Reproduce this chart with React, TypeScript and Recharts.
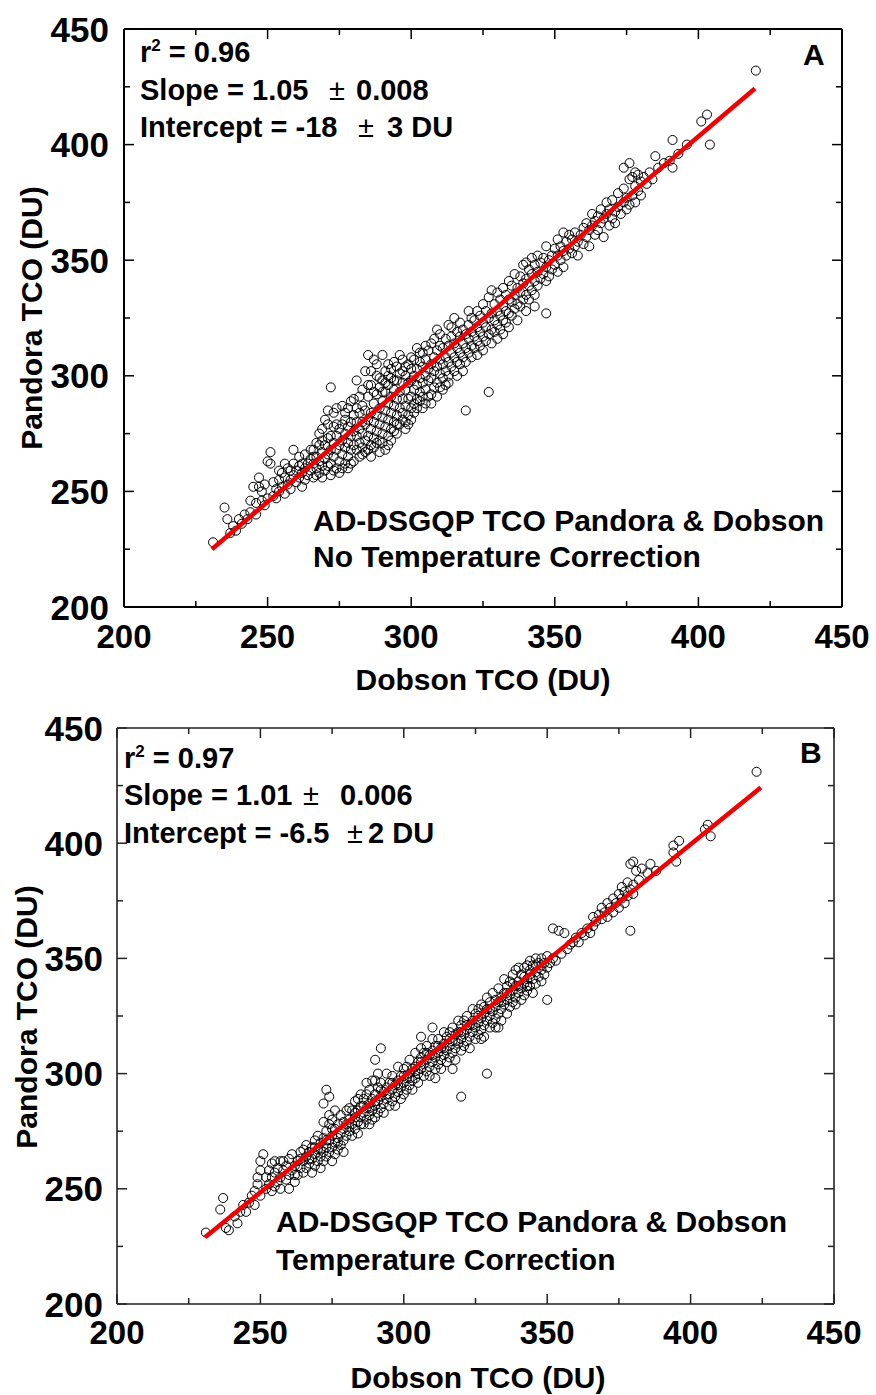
import React from "react";
import { ScatterChart, Scatter, XAxis, YAxis, ZAxis } from "recharts";

const FONT = "'Liberation Sans', Arial, Helvetica, sans-serif";

// shared axis: 200..450 DU, majors every 50, minors every 25
const axisDomain: [number, number] = [200, 450];
const axisTicks = [200, 225, 250, 275, 300, 325, 350, 375, 400, 425, 450];

// Panel A — no temperature correction: [Dobson, Pandora]
const pointsA: [number, number][] = [
  [231, 228], [235, 243], [236, 238], [237, 232], [239, 233], [241, 236], [242, 240], [243, 238],
  [244, 241], [246, 240], [246, 245], [247, 252], [247, 256], [248, 246], [248, 250], [249, 244],
  [250, 247], [250, 263], [251, 262], [251, 267], [249, 253], [245, 252], [244, 246], [240, 238], [238, 235],
  [252, 248], [252, 254], [253, 247], [253, 251], [254, 250], [254, 255], [255, 252], [255, 258],
  [256, 249], [256, 256], [257, 253], [257, 260], [258, 255], [258, 251], [259, 257], [259, 262],
  [259, 268], [260, 254], [260, 259], [261, 265], [261, 256], [262, 258], [262, 262], [262, 252],
  [263, 260], [263, 266], [264, 257], [264, 262], [265, 259], [265, 264], [265, 268], [263, 255],
  [261, 261], [258, 259], [256, 262], [254, 259],
  [266, 262], [266, 268], [266, 256], [267, 260], [267, 265], [267, 271], [268, 258], [268, 263],
  [268, 275], [269, 261], [269, 267], [269, 256], [270, 264], [270, 270], [270, 281], [270, 259],
  [271, 266], [271, 273], [271, 285], [272, 262], [272, 268], [272, 295], [272, 257], [273, 265],
  [273, 271], [273, 278], [273, 284], [274, 260], [274, 268], [274, 274], [275, 263], [275, 270],
  [275, 277], [275, 258], [276, 266], [276, 272], [276, 287], [277, 262], [277, 269], [277, 275],
  [277, 281], [278, 265], [278, 271], [278, 278], [278, 260], [279, 268], [279, 274], [279, 289],
  [280, 263], [280, 270], [280, 276], [280, 283], [279, 262], [276, 260], [274, 279], [271, 261],
  [269, 272], [267, 257],
  [281, 268], [281, 274], [281, 280], [281, 298], [282, 265], [282, 271], [282, 277], [282, 284],
  [283, 269], [283, 275], [283, 287], [283, 266], [284, 272], [284, 279], [284, 302], [284, 285],
  [285, 268], [285, 274], [285, 281], [285, 291], [285, 309], [286, 270], [286, 277], [286, 284],
  [286, 296], [287, 273], [287, 280], [287, 288], [287, 307], [287, 269], [288, 276], [288, 283],
  [288, 292], [288, 300], [289, 272], [289, 279], [289, 286], [289, 295], [290, 275], [290, 282],
  [290, 289], [290, 298], [290, 309], [290, 271], [291, 278], [291, 285], [291, 293], [291, 302],
  [292, 274], [292, 281], [292, 288], [292, 296], [292, 305], [293, 277], [293, 284], [293, 291],
  [293, 299], [294, 280], [294, 287], [294, 294], [294, 276], [295, 283], [295, 290], [295, 298],
  [295, 304], [296, 279], [296, 286], [296, 293], [296, 309], [297, 284], [297, 290], [297, 297],
  [297, 302], [298, 280], [298, 287], [298, 294], [298, 300], [299, 283], [299, 290], [299, 297],
  [299, 305], [300, 286], [300, 291], [300, 298], [300, 303], [286, 265], [289, 267], [292, 270],
  [295, 275], [298, 277],
  [301, 288], [301, 294], [301, 300], [301, 307], [302, 290], [302, 296], [302, 303], [302, 312],
  [303, 289], [303, 293], [303, 299], [303, 306], [304, 291], [304, 297], [304, 304], [304, 310],
  [305, 294], [305, 300], [305, 307], [305, 288], [306, 298], [306, 303], [306, 311], [307, 292],
  [307, 299], [307, 305], [307, 314], [308, 295], [308, 302], [308, 308], [309, 297], [309, 304],
  [309, 311], [309, 320], [310, 295], [310, 301], [310, 307], [310, 313], [311, 299], [311, 305],
  [311, 312], [312, 302], [312, 308], [312, 316], [313, 300], [313, 306], [313, 313], [313, 322],
  [314, 304], [314, 310], [314, 317], [315, 302], [315, 308], [315, 314], [315, 325], [316, 306],
  [316, 312], [316, 319], [317, 305], [317, 310], [317, 317], [317, 323], [318, 308], [318, 314],
  [318, 320], [319, 285], [319, 306], [319, 312], [319, 318], [320, 310], [320, 316], [320, 322],
  [320, 328],
  [321, 313], [321, 319], [321, 325], [322, 312], [322, 317], [322, 324], [323, 315], [323, 321],
  [323, 328], [324, 313], [324, 319], [324, 326], [325, 317], [325, 323], [325, 331], [326, 315],
  [326, 321], [326, 328], [327, 293], [327, 318], [327, 325], [327, 334], [328, 320], [328, 327],
  [328, 337], [329, 319], [329, 324], [329, 331], [330, 322], [330, 328], [330, 336], [331, 320],
  [331, 326], [331, 333], [332, 324], [332, 330], [332, 338], [333, 323], [333, 328], [333, 335],
  [334, 327], [334, 333], [334, 341], [335, 326], [335, 332], [335, 339], [336, 329], [336, 335],
  [336, 344], [337, 331], [337, 338], [338, 330], [338, 336], [338, 343], [339, 333], [339, 340],
  [339, 348], [340, 335], [340, 342], [340, 349],
  [341, 333], [341, 339], [341, 346], [342, 337], [342, 344], [342, 351], [343, 335], [343, 341],
  [343, 348], [344, 339], [344, 345], [344, 352], [345, 342], [345, 349], [346, 344], [346, 351],
  [347, 327], [347, 341], [347, 347], [347, 356], [348, 343], [348, 350], [349, 346], [349, 352],
  [350, 348], [350, 355], [351, 345], [351, 352], [351, 359], [352, 350], [352, 356], [353, 347],
  [353, 354], [353, 362], [354, 352], [354, 358], [355, 355], [355, 361],
  [356, 353], [356, 359], [357, 356], [357, 362], [358, 358], [358, 352], [359, 361], [360, 357],
  [360, 364], [361, 360], [361, 366], [362, 356], [362, 363], [363, 365], [363, 370], [364, 361],
  [364, 367], [365, 363], [365, 369], [366, 366], [366, 372], [367, 360], [367, 368], [368, 370],
  [368, 375], [369, 365], [369, 372], [370, 368], [370, 376], [371, 371], [371, 366], [372, 373],
  [372, 379], [373, 370], [374, 375], [374, 381], [375, 372], [375, 377], [376, 374], [376, 385],
  [377, 378], [377, 386], [378, 375], [378, 382], [379, 380], [379, 387], [380, 378], [380, 384],
  [381, 386], [374, 390], [376, 392], [378, 388],
  [382, 383], [383, 388], [384, 385], [385, 395], [386, 390], [388, 392], [390, 393], [391, 390],
  [391, 402], [393, 396], [396, 400], [401, 410], [403, 413], [404, 400], [420, 432],
  // denser core
  [266, 265], [268, 270], [269, 277], [271, 279], [272, 274], [273, 259], [274, 286], [276, 279],
  [277, 284], [278, 286], [279, 280], [280, 290], [281, 286], [282, 291], [283, 294], [283, 280],
  [284, 267], [285, 296], [286, 302], [287, 293], [288, 271], [288, 305], [289, 299], [290, 293],
  [291, 268], [291, 297], [292, 300], [293, 272], [293, 303], [294, 298], [294, 306], [295, 279],
  [296, 301], [297, 281], [297, 307], [298, 304], [299, 279], [300, 281], [300, 308], [301, 284],
  [302, 286], [303, 310], [304, 286], [305, 313], [306, 291], [307, 288], [308, 316], [309, 291],
  [310, 318], [311, 294], [312, 296], [313, 297], [314, 321], [316, 300], [318, 302], [321, 308],
  [323, 309], [325, 311], [328, 314], [330, 316], [332, 318], [334, 321], [337, 324], [340, 328],
  [343, 330],
];
const fitA: [number, number][] = [[230.6, 225], [419.7, 424.3]];

// Panel B — temperature corrected: [Dobson, Pandora]
const pointsB: [number, number][] = [
  [231, 231], [236, 241], [237, 246], [238, 233], [239, 232], [241, 238], [243, 240], [244, 243],
  [246, 244], [247, 247], [248, 249], [249, 252], [249, 255], [250, 247], [250, 258], [250, 262],
  [251, 265], [248, 243], [245, 240], [242, 235],
  [252, 250], [252, 255], [253, 252], [253, 258], [254, 249], [254, 255], [254, 261], [255, 251],
  [255, 257], [256, 253], [256, 259], [257, 255], [257, 250], [258, 258], [258, 262], [259, 254],
  [259, 260], [260, 256], [260, 263], [261, 258], [261, 265], [262, 253], [262, 260], [263, 256],
  [263, 262], [264, 259], [264, 266], [265, 257], [265, 262], [265, 267], [260, 250], [257, 262],
  [255, 262],
  [266, 259], [266, 264], [266, 269], [267, 261], [267, 266], [268, 257], [268, 263], [268, 268],
  [269, 260], [269, 265], [269, 271], [270, 262], [270, 267], [270, 273], [271, 259], [271, 264],
  [271, 270], [272, 266], [272, 272], [272, 262], [273, 268], [273, 264], [273, 275], [274, 266],
  [274, 271], [274, 278], [275, 262], [275, 268], [275, 273], [275, 280], [276, 270], [276, 276],
  [276, 265], [277, 267], [277, 272], [277, 278], [278, 269], [278, 274], [278, 282], [279, 271],
  [279, 276], [279, 266], [280, 273], [280, 278], [280, 284], [274, 282], [272, 279], [276, 284],
  [273, 293], [274, 290], [272, 287],
  [281, 275], [281, 280], [281, 285], [282, 273], [282, 278], [282, 284], [283, 276], [283, 281],
  [283, 288], [284, 279], [284, 284], [284, 274], [285, 281], [285, 286], [285, 291], [286, 278],
  [286, 283], [286, 289], [287, 280], [287, 285], [287, 291], [288, 282], [288, 287], [288, 278],
  [288, 293], [289, 284], [289, 289], [289, 280], [290, 281], [290, 286], [290, 291], [290, 297],
  [291, 283], [291, 288], [291, 294], [292, 285], [292, 290], [292, 296], [293, 287], [293, 292],
  [293, 283], [294, 289], [294, 294], [294, 300], [295, 286], [295, 291], [295, 296], [296, 288],
  [296, 293], [296, 299], [297, 290], [297, 295], [297, 286], [298, 292], [298, 297], [298, 303],
  [299, 289], [299, 294], [299, 299], [300, 291], [300, 296], [300, 302], [284, 289], [287, 296],
  [289, 297], [291, 300], [292, 311], [290, 306],
  [301, 293], [301, 298], [301, 303], [302, 295], [302, 300], [302, 306], [303, 297], [303, 302],
  [303, 293], [304, 298], [304, 303], [304, 309], [305, 300], [305, 305], [305, 296], [306, 302],
  [306, 307], [306, 311], [307, 299], [307, 304], [307, 309], [308, 301], [308, 306], [308, 312],
  [309, 303], [309, 308], [309, 299], [310, 305], [310, 310], [310, 315], [311, 302], [311, 307],
  [311, 312], [312, 304], [312, 309], [312, 315], [313, 306], [313, 311], [313, 302], [314, 308],
  [314, 313], [314, 318], [315, 305], [315, 310], [315, 316], [316, 307], [316, 312], [316, 318],
  [317, 309], [317, 314], [317, 320], [318, 306], [318, 311], [318, 317], [319, 313], [319, 318],
  [319, 323], [320, 290], [320, 310], [320, 315], [320, 321], [310, 320], [306, 316],
  [321, 312], [321, 317], [321, 323], [322, 314], [322, 319], [322, 325], [323, 316], [323, 321],
  [323, 311], [324, 318], [324, 323], [324, 328], [325, 315], [325, 320], [325, 326], [326, 317],
  [326, 322], [326, 328], [327, 319], [327, 324], [327, 330], [328, 321], [328, 326], [328, 316],
  [329, 300], [329, 323], [329, 328], [329, 333], [330, 320], [330, 325], [330, 331], [331, 322],
  [331, 327], [331, 335], [332, 324], [332, 329], [332, 320], [333, 326], [333, 331], [333, 337],
  [334, 328], [334, 333], [334, 323], [335, 330], [335, 335], [335, 341], [336, 326], [336, 332],
  [336, 338], [337, 329], [337, 334], [337, 340], [338, 331], [338, 336], [338, 343], [339, 333],
  [339, 338], [339, 345], [340, 335], [340, 340], [340, 346],
  [341, 332], [341, 337], [341, 343], [342, 334], [342, 339], [342, 346], [343, 336], [343, 341],
  [343, 347], [344, 338], [344, 343], [344, 349], [345, 335], [345, 341], [345, 347], [346, 339],
  [346, 344], [346, 350], [347, 342], [347, 348], [348, 340], [348, 345], [348, 350], [349, 343],
  [349, 348], [350, 332], [350, 346], [350, 351], [351, 348], [352, 350], [353, 349], [355, 352],
  [352, 363], [354, 362], [356, 361],
  [357, 354], [358, 356], [359, 357], [360, 359], [361, 357], [362, 361], [363, 360], [364, 363],
  [365, 361], [366, 364], [366, 368], [367, 366], [368, 369], [369, 367], [369, 372], [370, 370],
  [371, 368], [371, 374], [372, 372], [373, 370], [373, 376], [374, 374], [375, 372], [375, 378],
  [376, 376], [376, 381], [377, 374], [377, 379], [378, 377], [378, 383], [379, 362], [379, 380],
  [380, 378], [380, 382], [380, 392], [381, 388], [379, 391],
  [382, 384], [383, 389], [385, 387], [386, 391], [388, 388], [394, 396], [394, 399], [395, 392],
  [396, 401], [405, 406], [406, 408], [407, 403], [423, 431],
  // denser core
  [262, 256], [264, 263], [267, 263], [269, 268], [271, 267], [273, 271], [275, 276], [277, 270],
  [279, 279], [281, 277], [283, 283], [285, 278], [286, 286], [288, 285], [290, 288], [292, 293],
  [294, 291], [296, 296], [298, 295], [300, 299], [302, 298], [304, 301], [306, 305], [308, 309],
  [310, 308], [312, 312], [314, 311], [316, 315], [318, 314], [320, 318], [322, 321], [324, 321],
  [326, 325], [328, 329], [330, 328], [332, 332], [334, 331], [336, 335], [338, 339], [340, 338],
  [342, 342], [344, 345], [346, 347], [348, 347], [343, 338], [339, 330], [333, 320], [327, 315],
  [317, 302], [311, 298],
];
const fitB: [number, number][] = [[230.7, 229], [424.5, 424.2]];

const toXY = (pts: [number, number][]) => pts.map(([x, y]) => ({ x, y }));

type Side = "bottom" | "top" | "left" | "right";

function tickRenderer(side: Side, color: string, fontSize: number, gap: number) {
  return (props: any) => {
    const { x, y, payload } = props;
    const v = Number(payload.value);
    const major = v % 50 === 0;
    const len = major ? 10 : 6;
    let x2 = x;
    let y2 = y;
    if (side === "bottom") y2 = y - len;
    if (side === "top") y2 = y + len;
    if (side === "left") x2 = x + len;
    if (side === "right") x2 = x - len;
    return (
      <g>
        <line x1={x} y1={y} x2={x2} y2={y2} stroke={color} strokeWidth={1.5} />
        {major && side === "bottom" && (
          <text x={x} y={y + gap} textAnchor="middle" dominantBaseline="central"
            fontFamily={FONT} fontWeight="bold" fontSize={fontSize} fill="#000">{v}</text>
        )}
        {major && side === "left" && (
          <text x={x - gap} y={y} textAnchor="end" dominantBaseline="central"
            fontFamily={FONT} fontWeight="bold" fontSize={fontSize} fill="#000">{v}</text>
        )}
      </g>
    );
  };
}

function Panel({ points, fit, height, margin, frame, frameWidth, xGap, yGap }: {
  points: [number, number][];
  fit: [number, number][];
  height: number;
  margin: { top: number; right: number; bottom: number; left: number };
  frame: string;
  frameWidth: number;
  xGap: number;
  yGap: number;
}) {
  const axisLine = { stroke: frame, strokeWidth: frameWidth };
  return (
    <ScatterChart width={876} height={height}
      margin={{ top: margin.top - 1, right: margin.right - 1, bottom: 0, left: 0 }}>
      <XAxis type="number" dataKey="x" domain={axisDomain} ticks={axisTicks} interval={0}
        allowDataOverflow height={margin.bottom} axisLine={axisLine} tickLine={false}
        tickSize={0} tickMargin={0} tick={tickRenderer("bottom", frame, 33, xGap)} />
      <XAxis xAxisId="top" orientation="top" type="number" dataKey="x" domain={axisDomain}
        ticks={axisTicks} interval={0} allowDataOverflow height={1} axisLine={axisLine}
        tickLine={false} tickSize={0} tickMargin={0} tick={tickRenderer("top", frame, 30, 0)} />
      <YAxis type="number" dataKey="y" domain={axisDomain} ticks={axisTicks} interval={0}
        allowDataOverflow width={margin.left} axisLine={axisLine} tickLine={false}
        tickSize={0} tickMargin={0} tick={tickRenderer("left", frame, 35, yGap)} />
      <YAxis yAxisId="right" orientation="right" type="number" dataKey="y" domain={axisDomain}
        ticks={axisTicks} interval={0} allowDataOverflow width={1} axisLine={axisLine}
        tickLine={false} tickSize={0} tickMargin={0} tick={tickRenderer("right", frame, 32, 0)} />
      <ZAxis range={[64, 64]} />
      <Scatter data={toXY(points)} fill="none" stroke="#000" strokeWidth={1}
        isAnimationActive={false} />
      <Scatter data={toXY(fit)} line={{ stroke: "#f00000", strokeWidth: 4.5 }}
        shape={() => <g />} isAnimationActive={false} />
    </ScatterChart>
  );
}

const textStyle = { fontFamily: FONT, fontWeight: "bold" as const, fill: "#000" };

export default function App() {
  return (
    <div style={{ position: "absolute", left: 0, top: 0, width: 876, height: 1395, background: "#fff" }}>
      <div style={{ position: "absolute", left: 0, top: 0 }}>
        <Panel points={pointsA} fit={fitA} height={690}
          margin={{ top: 29, right: 34, bottom: 83, left: 124 }}
          frame="#000" frameWidth={2} xGap={29} yGap={15} />
      </div>
      <div style={{ position: "absolute", left: 0, top: 690 }}>
        <Panel points={pointsB} fit={fitB} height={705}
          margin={{ top: 38, right: 42, bottom: 91, left: 117 }}
          frame="#222" frameWidth={1.6} xGap={28} yGap={14} />
      </div>
      <svg width={876} height={1395} style={{ position: "absolute", left: 0, top: 0, pointerEvents: "none" }}>
        <g {...textStyle} fontSize={29}>
          {/* panel A stats */}
          <text x={140} y={62}>r<tspan dy={-11} fontSize={17}>2</tspan><tspan dy={11}> = 0.96</tspan></text>
          <text x={140} y={100}>Slope = 1.05</text>
          <text x={329} y={100} fontWeight="normal">±</text>
          <text x={356} y={100}>0.008</text>
          <text x={140} y={137}>Intercept = -18</text>
          <text x={358} y={137} fontWeight="normal">±</text>
          <text x={387} y={137}>3 DU</text>
          {/* panel B stats */}
          <text x={124} y={768}>r<tspan dy={-11} fontSize={17}>2</tspan><tspan dy={11}> = 0.97</tspan></text>
          <text x={124} y={805}>Slope = 1.01</text>
          <text x={303} y={805} fontWeight="normal">±</text>
          <text x={340} y={805}>0.006</text>
          <text x={124} y={843}>Intercept = -6.5</text>
          <text x={347} y={843} fontWeight="normal">±</text>
          <text x={368} y={843}>2 DU</text>
        </g>
        <g {...textStyle} fontSize={30}>
          <text x={803} y={65}>A</text>
          <text x={313} y={531}>AD-DSGQP TCO Pandora &amp; Dobson</text>
          <text x={313} y={567}>No Temperature Correction</text>
          <text x={483} y={690} textAnchor="middle">Dobson TCO (DU)</text>
          <text transform="translate(31,318) rotate(-90)" textAnchor="middle" dominantBaseline="central">Pandora TCO (DU)</text>

          <text x={800} y={763}>B</text>
          <text x={276} y={1232}>AD-DSGQP TCO Pandora &amp; Dobson</text>
          <text x={276} y={1270}>Temperature Correction</text>
          <text x={478} y={1388} textAnchor="middle">Dobson TCO (DU)</text>
          <text transform="translate(26,1017) rotate(-90)" textAnchor="middle" dominantBaseline="central">Pandora TCO (DU)</text>
        </g>
      </svg>
    </div>
  );
}
